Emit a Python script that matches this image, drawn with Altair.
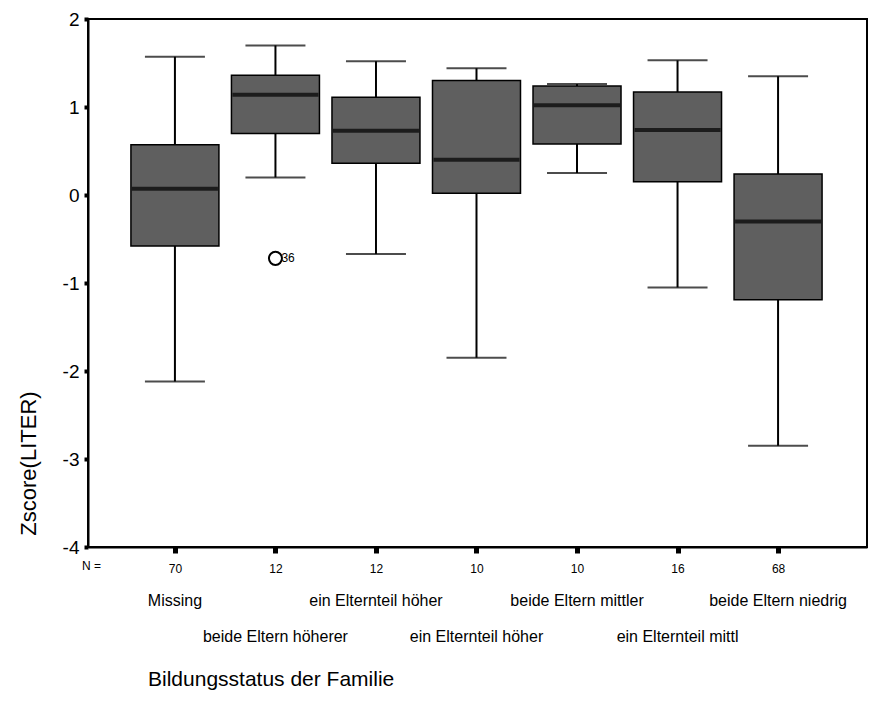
import altair as alt
import pandas as pd

# ---- data ----
idx = [1, 2, 3, 4, 5, 6, 7]
categories = ["Missing", "beide Eltern höherer", "ein Elternteil höher",
              "ein Elternteil höher", "beide Eltern mittler",
              "ein Elternteil mittl", "beide Eltern niedrig"]
n_values = [70, 12, 12, 10, 10, 16, 68]
whisker_low = [-2.12, 0.20, -0.67, -1.85, 0.25, -1.05, -2.85]
q1 = [-0.58, 0.70, 0.36, 0.02, 0.58, 0.15, -1.19]
median = [0.07, 1.14, 0.73, 0.40, 1.02, 0.74, -0.30]
q3 = [0.57, 1.36, 1.11, 1.30, 1.24, 1.17, 0.24]
whisker_high = [1.57, 1.70, 1.52, 1.44, 1.26, 1.53, 1.35]
label_row = [0, 1, 0, 1, 0, 1, 0]

outlier_idx = [2]
outlier_val = [-0.72]
outlier_lbl = ["36"]

y_ticks = [-4, -3, -2, -1, 0, 1, 2]

df = pd.DataFrame(dict(idx=idx, cat=categories, n=n_values, lo=whisker_low,
                       q1=q1, med=median, q3=q3, hi=whisker_high, row=label_row))
out = pd.DataFrame(dict(idx=outlier_idx, v=outlier_val, lbl=outlier_lbl))

FONT = "Liberation Sans"
n_expr = "{" + ",".join(f"'{i}':'{n}'" for i, n in zip(idx, n_values)) + "}"

xs = alt.Scale(domain=[0.185, 7.835], nice=False, zero=False)
ys = alt.Scale(domain=[-4, 2], nice=False, zero=False)

x_enc = alt.X("idx:Q", scale=xs, axis=alt.Axis(
    values=idx, title=None, grid=False, labelExpr=f"{n_expr}[datum.value]",
    labelFontSize=12, labelFont=FONT, labelColor="black", labelPadding=10,
    tickSize=6, tickWidth=5, tickColor="black", domainColor="black", domainWidth=2))

base = alt.Chart(df)

whisk = base.mark_rule(color="black", strokeWidth=2).encode(
    x=x_enc,
    y=alt.Y("lo:Q", scale=ys, axis=alt.Axis(
        values=y_ticks, title="Zscore(LITER)", grid=False,
        labelExpr="'' + datum.value",
        labelFontSize=19, labelFont=FONT, labelColor="black", labelPadding=5,
        tickSize=4, tickWidth=4, tickColor="black", domainColor="black", domainWidth=2,
        titleFont=FONT, titleFontSize=22, titleFontWeight="normal", titleColor="black",
        titleAngle=270, titleX=-60, titleY=444, titleAlign="center", titleBaseline="middle")),
    y2="hi:Q")

box = base.mark_bar(size=88, fill="#5f5f5f", stroke="black", strokeWidth=1.5).encode(
    x=alt.X("idx:Q", scale=xs), y=alt.Y("q1:Q", scale=ys), y2="q3:Q")

med = base.mark_tick(orient="horizontal", size=86, thickness=4, color="black").encode(
    x=alt.X("idx:Q", scale=xs), y=alt.Y("med:Q", scale=ys))

cap_lo = base.mark_tick(orient="horizontal", size=60, thickness=2, color="black").encode(
    x=alt.X("idx:Q", scale=xs), y=alt.Y("lo:Q", scale=ys))
cap_hi = base.mark_tick(orient="horizontal", size=60, thickness=2, color="black").encode(
    x=alt.X("idx:Q", scale=xs), y=alt.Y("hi:Q", scale=ys))

pt = alt.Chart(out).mark_point(shape="circle", size=170, filled=False, color="black",
                               strokeWidth=2, opacity=1).encode(
    x=alt.X("idx:Q", scale=xs), y=alt.Y("v:Q", scale=ys))
pt_lbl = alt.Chart(out).mark_text(align="left", dx=6, fontSize=12, font=FONT,
                                  color="black").encode(
    x=alt.X("idx:Q", scale=xs), y=alt.Y("v:Q", scale=ys), text="lbl:N")

row0 = base.transform_filter("datum.row == 0").mark_text(
    fontSize=16, font=FONT, color="black", baseline="middle").encode(
    x=alt.X("idx:Q", scale=xs), y=alt.value(582), text="cat:N")
row1 = base.transform_filter("datum.row == 1").mark_text(
    fontSize=16, font=FONT, color="black", baseline="middle").encode(
    x=alt.X("idx:Q", scale=xs), y=alt.value(618), text="cat:N")

n_eq = alt.Chart(pd.DataFrame({"t": ["N ="]})).mark_text(
    fontSize=12, font=FONT, color="black", align="left", baseline="middle").encode(
    x=alt.value(-6), y=alt.value(547), text="t:N")

ttl = alt.Chart(pd.DataFrame({"t": ["Bildungsstatus der Familie"]})).mark_text(
    fontSize=21, font=FONT, color="black", align="left", baseline="middle").encode(
    x=alt.value(60), y=alt.value(661), text="t:N")

chart = alt.layer(whisk, box, med, cap_lo, cap_hi, pt, pt_lbl, row0, row1, n_eq, ttl).properties(
    width=779, height=528, autosize="none",
    padding={"left": 80, "top": 11, "right": 5, "bottom": 160},
    background="white"
).configure_view(stroke="black", strokeWidth=2)

chart.save("out.html", embed_options={"renderer": "svg", "actions": False})
